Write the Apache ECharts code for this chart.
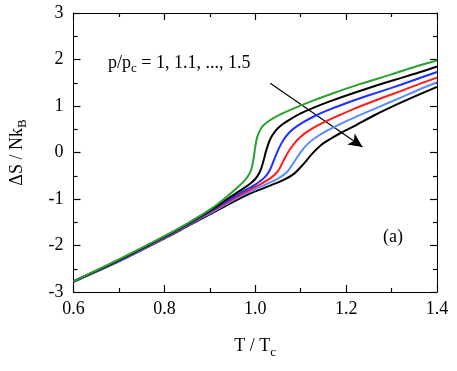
<!DOCTYPE html>
<html>
<head>
<meta charset="utf-8">
<script src="https://cdn.jsdelivr.net/npm/echarts@6/dist/echarts.min.js"></script>
<style>
  html, body { margin: 0; padding: 0; background: #fff; }
  #chart { width: 457px; height: 371px; }
</style>
</head>
<body>
<div id="chart"></div>
<script>
// 读图估计的数据 (T/Tc, ΔS/NkB)
const t10 = [0.6, 0.7, 0.8, 0.85, 0.9, 0.93, 0.96, 0.98, 0.99, 0.996, 1.0, 1.004, 1.009, 1.016, 1.026, 1.04, 1.06, 1.085, 1.12, 1.17, 1.23, 1.3, 1.35, 1.4];
const s10 = [-2.77, -2.30, -1.80, -1.53, -1.23, -1.01, -0.76, -0.56, -0.40, -0.15, 0.12, 0.32, 0.45, 0.56, 0.65, 0.74, 0.84, 0.95, 1.09, 1.27, 1.47, 1.68, 1.84, 1.98];

const t11 = [0.6, 0.7, 0.8, 0.85, 0.9, 0.94, 0.97, 0.99, 1.0, 1.01, 1.017, 1.024, 1.03, 1.037, 1.046, 1.058, 1.075, 1.1, 1.13, 1.17, 1.22, 1.27, 1.32, 1.36, 1.4];
const s11 = [-2.77, -2.31, -1.81, -1.54, -1.25, -0.99, -0.80, -0.66, -0.57, -0.42, -0.22, 0.04, 0.22, 0.36, 0.48, 0.59, 0.70, 0.84, 0.97, 1.12, 1.29, 1.45, 1.60, 1.72, 1.85];

const t12 = [0.6, 0.7, 0.8, 0.85, 0.9, 0.94, 0.98, 1.0, 1.02, 1.032, 1.042, 1.052, 1.062, 1.074, 1.088, 1.105, 1.13, 1.16, 1.2, 1.25, 1.3, 1.35, 1.4];
const s12 = [-2.77, -2.32, -1.82, -1.55, -1.27, -1.03, -0.80, -0.69, -0.54, -0.38, -0.14, 0.09, 0.27, 0.42, 0.54, 0.65, 0.78, 0.91, 1.06, 1.23, 1.39, 1.56, 1.73];

const t13 = [0.6, 0.7, 0.8, 0.85, 0.9, 0.94, 0.98, 1.01, 1.035, 1.05, 1.062, 1.075, 1.088, 1.1, 1.118, 1.145, 1.18, 1.22, 1.27, 1.32, 1.36, 1.4];
const s13 = [-2.77, -2.32, -1.83, -1.56, -1.29, -1.06, -0.84, -0.69, -0.54, -0.40, -0.18, 0.05, 0.22, 0.34, 0.47, 0.62, 0.78, 0.95, 1.14, 1.32, 1.47, 1.61];

const t14 = [0.6, 0.7, 0.8, 0.85, 0.9, 0.94, 0.98, 1.02, 1.05, 1.07, 1.085, 1.1, 1.115, 1.13, 1.152, 1.18, 1.22, 1.27, 1.32, 1.36, 1.4];
const s14 = [-2.77, -2.33, -1.84, -1.57, -1.31, -1.09, -0.88, -0.70, -0.56, -0.42, -0.21, 0.01, 0.18, 0.30, 0.44, 0.58, 0.76, 0.97, 1.18, 1.35, 1.51];

const t15 = [0.6, 0.7, 0.8, 0.85, 0.9, 0.94, 0.98, 1.02, 1.06, 1.085, 1.105, 1.125, 1.145, 1.165, 1.19, 1.22, 1.26, 1.3, 1.35, 1.4];
const s15 = [-2.78, -2.34, -1.85, -1.59, -1.33, -1.12, -0.92, -0.76, -0.60, -0.46, -0.26, -0.03, 0.16, 0.29, 0.43, 0.58, 0.79, 0.98, 1.20, 1.41];

const curves = [
  { t: t10, s: s10, color: '#2ca02c' },
  { t: t11, s: s11, color: '#000000' },
  { t: t12, s: s12, color: '#1f2fff' },
  { t: t13, s: s13, color: '#ff1a1a' },
  { t: t14, s: s14, color: '#5a8cff' },
  { t: t15, s: s15, color: '#000000' }
];

// 箭头的起止点 (数据坐标)
const arrowFrom = [1.033, 1.49];
const arrowTo = [1.236, 0.12];

const font = 'Liberation Serif';
const chart = echarts.init(document.getElementById('chart'));

const series = curves.map((c, i) => ({
  type: 'line',
  data: c.t.map((t, k) => [t, c.s[k]]),
  smooth: 0.3,
  showSymbol: false,
  lineStyle: { color: c.color, width: 2 },
  z: 10 - i,
  markLine: i === 0 ? {
    silent: true,
    symbol: ['none', 'arrow'],
    symbolSize: [10, 14],
    label: { show: false },
    lineStyle: { color: '#000', width: 1.2, type: 'solid' },
    data: [[{ coord: arrowFrom }, { coord: arrowTo }]]
  } : undefined
}));

// 四边都画向内的刻度
function box(extra) {
  return Object.assign({
    axisLine: { show: true, onZero: false, lineStyle: { color: '#000', width: 1 } },
    axisTick: { show: true, inside: true, length: 7, lineStyle: { color: '#000', width: 1.2 } },
    minorTick: { show: true, splitNumber: 2, length: 4, lineStyle: { color: '#000', width: 1.2 } },
    splitLine: { show: false }
  }, extra);
}

chart.setOption({
  animation: false,
  grid: { left: 73, right: 20, top: 13, bottom: 79 },
  xAxis: [
    box({
      type: 'value', min: 0.6, max: 1.4, interval: 0.2,
      name: 'T / T{sub|c}',
      nameLocation: 'middle', nameGap: 42,
      nameTextStyle: {
        fontFamily: font, fontSize: 18, color: '#000',
        rich: { sub: { fontFamily: font, fontSize: 13, color: '#000', padding: [12, 0, 0, 0] } }
      },
      axisLabel: { fontFamily: font, fontSize: 18, color: '#000', margin: 8, formatter: v => v.toFixed(1) }
    }),
    box({
      type: 'value', min: 0.6, max: 1.4, interval: 0.2, position: 'top',
      axisLabel: { show: false }
    })
  ],
  yAxis: [
    box({
      type: 'value', min: -3, max: 3, interval: 1,
      name: 'ΔS / Nk{sub|B}',
      nameLocation: 'middle', nameGap: 44,
      nameTextStyle: {
        fontFamily: font, fontSize: 18, color: '#000',
        rich: { sub: { fontFamily: font, fontSize: 13, color: '#000', padding: [12, 0, 0, 0] } }
      },
      axisLabel: { fontFamily: font, fontSize: 18, color: '#000', margin: 10 }
    }),
    box({
      type: 'value', min: -3, max: 3, interval: 1, position: 'right',
      axisLabel: { show: false }
    })
  ],
  graphic: [
    {
      type: 'text', left: 108, top: 54,
      style: {
        text: 'p/p{sub|c} = 1, 1.1, ..., 1.5',
        fontFamily: font, fontSize: 18, fill: '#000',
        rich: { sub: { fontFamily: font, fontSize: 13, fill: '#000', padding: [12, 0, 0, 0] } }
      }
    },
    {
      type: 'text', left: 383, top: 228,
      style: { text: '(a)', fontFamily: font, fontSize: 18, fill: '#000' }
    }
  ],
  series: series
});
</script>
</body>
</html>
